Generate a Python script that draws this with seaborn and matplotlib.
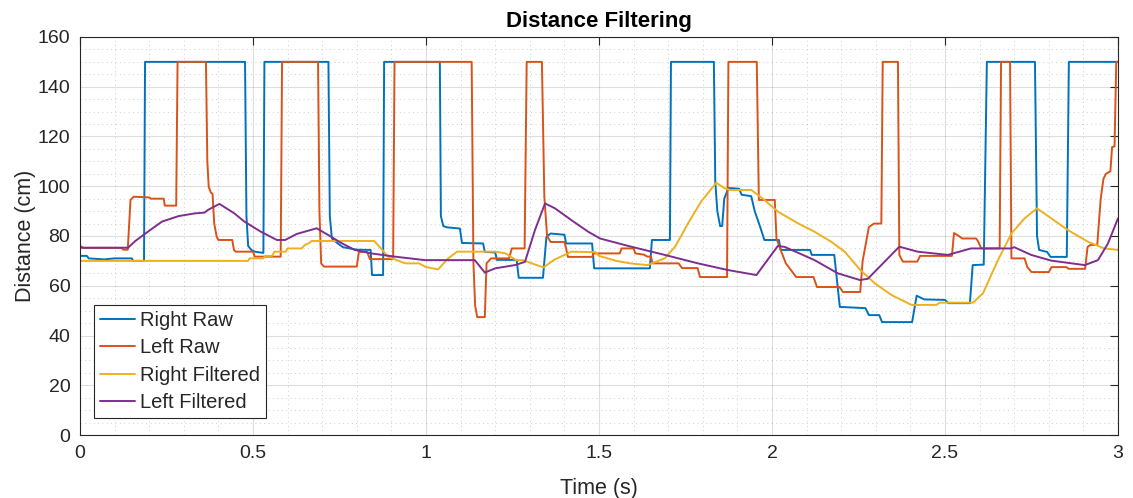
import numpy as np
import pandas as pd
import matplotlib
matplotlib.use("Agg")
import matplotlib.pyplot as plt
from matplotlib.ticker import MultipleLocator
import seaborn as sns

# ---------------- data ----------------
right_raw_t = [0.000, 0.020, 0.025, 0.070, 0.100, 0.150, 0.153, 0.185, 0.188, 0.477, 0.481, 0.486, 0.495, 0.505,
               0.530, 0.533, 0.718, 0.722, 0.728, 0.745, 0.760, 0.800, 0.840, 0.844, 0.876, 0.879, 1.040, 1.043,
               1.050, 1.060, 1.098, 1.104, 1.165, 1.170, 1.200, 1.205, 1.262, 1.268, 1.338, 1.348, 1.360, 1.400,
               1.405, 1.480, 1.486, 1.647, 1.653, 1.705, 1.708, 1.832, 1.836, 1.842, 1.850, 1.856, 1.862, 1.874,
               1.905, 1.912, 1.940, 1.950, 1.965, 1.978, 2.020, 2.025, 2.110, 2.115, 2.180, 2.196, 2.270, 2.280,
               2.310, 2.318, 2.405, 2.418, 2.440, 2.500, 2.510, 2.572, 2.580, 2.612, 2.621, 2.760, 2.766, 2.772,
               2.795, 2.805, 2.852, 2.858, 3.000]
right_raw_v = [72.0, 72.0, 71.0, 70.6, 71.0, 71.0, 70.0, 70.0, 150, 150, 88, 76, 74.4, 73.7,
               73.2, 150, 150, 88, 79, 77, 75.5, 74.5, 74.4, 64.3, 64.3, 150, 150, 88,
               84, 83.5, 83, 77.2, 77, 73.6, 73.4, 70.4, 70.4, 63.2, 63.2, 79.6, 81, 80.5,
               77, 77, 67, 67, 78.4, 78.4, 150, 150, 102, 90, 84, 84, 95, 99.3,
               99, 96.6, 96, 90, 84, 78.4, 78.4, 74.4, 74.4, 72.4, 72.4, 51.5, 51, 48.2,
               48.2, 45.4, 45.4, 56, 54.5, 54.3, 53, 53, 68.3, 68.5, 150, 150, 80, 74.4,
               73.6, 71.6, 71.6, 150, 150]

left_raw_t = [0.000, 0.010, 0.120, 0.125, 0.138, 0.146, 0.155, 0.200, 0.205, 0.242, 0.245, 0.278, 0.282, 0.364,
              0.368, 0.372, 0.378, 0.383, 0.388, 0.395, 0.400, 0.440, 0.445, 0.450, 0.500, 0.505, 0.580, 0.584,
              0.688, 0.692, 0.697, 0.705, 0.800, 0.806, 0.830, 0.838, 0.905, 0.909, 1.132, 1.137, 1.142, 1.148,
              1.170, 1.175, 1.188, 1.240, 1.248, 1.285, 1.291, 1.335, 1.342, 1.350, 1.360, 1.400, 1.405, 1.410,
              1.480, 1.485, 1.560, 1.565, 1.600, 1.605, 1.630, 1.640, 1.650, 1.655, 1.730, 1.740, 1.785, 1.792,
              1.870, 1.874, 1.956, 1.962, 2.008, 2.013, 2.025, 2.040, 2.070, 2.120, 2.130, 2.195, 2.205, 2.255,
              2.262, 2.270, 2.280, 2.295, 2.316, 2.320, 2.364, 2.368, 2.378, 2.420, 2.428, 2.520, 2.526, 2.540,
              2.550, 2.590, 2.595, 2.605, 2.658, 2.662, 2.688, 2.692, 2.730, 2.738, 2.750, 2.800, 2.808, 2.850,
              2.858, 2.905, 2.912, 2.920, 2.940, 2.950, 2.958, 2.965, 2.978, 2.983, 2.990, 2.995, 3.000]
left_raw_v = [76, 75.2, 75.2, 74.5, 74.5, 94.5, 95.8, 95.5, 95, 95, 92.2, 92.2, 150, 150,
              110, 99.8, 97.5, 97, 85, 79.7, 78.4, 78.4, 74.4, 73.7, 73.7, 71.7, 71.7, 150,
              150, 90, 69, 67.7, 67.7, 73.6, 73.6, 70.7, 70.7, 150, 150, 69.6, 52, 47.4,
              47.4, 69, 71, 71, 75, 75, 150, 150, 95.8, 80, 77.6, 77.6, 75, 71.6,
              71.6, 73, 73, 75, 75, 73, 72.5, 71.7, 71.7, 69, 69, 67.1, 67.1, 63.5,
              63.5, 150, 150, 94.5, 94.5, 79, 74.4, 69, 63.5, 63.5, 59.5, 59.5, 57.5, 57.5,
              70, 76, 83.6, 85, 85, 150, 150, 72.4, 69.7, 69.7, 72, 72, 81.2, 80,
              79, 79, 78, 75, 75, 150, 150, 71, 71, 67.5, 65.5, 65.5, 67.5, 67.5,
              66.8, 66.8, 75.6, 76.4, 76.4, 95, 103, 105, 106, 115.8, 116, 150, 150]

right_filt_t = [0.000, 0.486, 0.490, 0.530, 0.535, 0.555, 0.562, 0.595, 0.600, 0.640, 0.650, 0.660, 0.670, 0.850,
                0.870, 0.890, 0.940, 0.980, 1.000, 1.035, 1.064, 1.090, 1.200, 1.230, 1.260, 1.280, 1.320, 1.340,
                1.370, 1.420, 1.490, 1.500, 1.550, 1.590, 1.640, 1.690, 1.720, 1.757, 1.795, 1.839, 1.863, 1.880,
                1.940, 1.978, 2.017, 2.075, 2.123, 2.171, 2.210, 2.254, 2.297, 2.345, 2.403, 2.475, 2.485, 2.581,
                2.610, 2.653, 2.692, 2.730, 2.766, 2.807, 2.855, 2.913, 2.960, 3.000]
right_filt_v = [70, 70, 71, 71, 72, 72, 73.7, 73.7, 75, 75, 76.4, 77, 78, 78,
                75, 71.7, 69, 69, 67.5, 66.6, 71, 73.7, 73.7, 73, 70.3, 70.3, 68.3, 67.4,
                70.4, 73.7, 73.5, 72, 70, 69, 68.3, 71, 75.7, 85, 93.8, 101.4, 99.2, 98.5,
                98.5, 94.5, 89.8, 85.1, 81.7, 77.7, 73.7, 66.5, 61, 56.3, 52.3, 52.3, 53.2, 53.2,
                57, 70.3, 81, 87.1, 91.1, 87.1, 82.4, 77.7, 75, 74.4]

left_filt_t = [0.000, 0.139, 0.160, 0.189, 0.237, 0.285, 0.332, 0.360, 0.370, 0.403, 0.446, 0.475, 0.523, 0.569,
               0.593, 0.626, 0.684, 0.726, 0.751, 0.794, 0.842, 0.910, 0.997, 1.141, 1.170, 1.200, 1.257, 1.286,
               1.315, 1.344, 1.373, 1.420, 1.469, 1.503, 1.530, 1.593, 1.690, 1.786, 1.873, 1.955, 1.985, 2.017,
               2.037, 2.123, 2.190, 2.254, 2.277, 2.368, 2.421, 2.508, 2.575, 2.691, 2.700, 2.749, 2.807, 2.904,
               2.942, 2.971, 3.000]
left_filt_v = [75.3, 75.3, 78, 81, 85.8, 88, 89.1, 89.4, 90.5, 92.9, 89.1, 85.8, 81.7, 78.4,
               78.4, 80.8, 83.1, 79.7, 77.5, 74.4, 73, 71.7, 70.3, 70.3, 65.3, 67, 68.3, 69.6,
               82.4, 93.1, 91.1, 86.4, 81.7, 79, 78, 75.7, 72.4, 69, 66.3, 64.3, 70, 76,
               75.6, 70.3, 65, 62.3, 62.8, 75.7, 73.7, 72.4, 75, 75, 75.5, 72.4, 70.1, 68.3,
               70.3, 77, 87.1]

series_names = ["Right Raw", "Left Raw", "Right Filtered", "Left Filtered"]
series_colors = ["#0072BD", "#D95319", "#EDB120", "#7E2F8E"]
x_tick_labels = ["0", "0.5", "1", "1.5", "2", "2.5", "3"]

frames = []
for name, t, v in zip(series_names,
                      [right_raw_t, left_raw_t, right_filt_t, left_filt_t],
                      [right_raw_v, left_raw_v, right_filt_v, left_filt_v]):
    frames.append(pd.DataFrame({"Time": t, "Distance": v, "Series": name}))
df = pd.concat(frames, ignore_index=True)

# ---------------- style ----------------
sns.set_theme(style="white")
plt.rcParams["font.family"] = ["Liberation Sans", "DejaVu Sans"]
dark = "#262626"

fig = plt.figure(figsize=(11.33, 4.98), dpi=100)
ax = fig.add_axes([80 / 1133, 63 / 498, 1038 / 1133, 398 / 498])

sns.lineplot(data=df, x="Time", y="Distance", hue="Series", hue_order=series_names,
             palette=series_colors, estimator=None, sort=False, linewidth=1.4, ax=ax)

ax.set_xlim(0, 3)
ax.set_ylim(0, 160)
ax.set_xticks([0, 0.5, 1, 1.5, 2, 2.5, 3])
ax.set_xticklabels(x_tick_labels)
ax.xaxis.set_minor_locator(MultipleLocator(0.1))
ax.yaxis.set_major_locator(MultipleLocator(20))
ax.yaxis.set_minor_locator(MultipleLocator(5))

ax.grid(which="major", color=dark, alpha=0.15, linewidth=0.8, linestyle="-")
ax.grid(which="minor", color=dark, alpha=0.22, linewidth=0.7, linestyle=(0, (1, 3.5)))
ax.set_axisbelow(True)

ax.tick_params(which="major", direction="in", length=6, width=0.8, color=dark,
               top=True, right=True, labelsize=14, labelcolor=dark, pad=7)
ax.tick_params(which="minor", length=0, top=True, right=True)
for s in ax.spines.values():
    s.set_color(dark)
    s.set_linewidth(0.8)
    s.set_visible(True)

ax.set_xlabel("Time (s)", fontsize=15.5, color=dark, labelpad=12)
ax.set_ylabel("Distance (cm)", fontsize=15.5, color=dark, labelpad=1)
ax.set_title("Distance Filtering", fontsize=16, fontweight="bold", color="black", pad=7)

leg = ax.legend(loc="lower left", bbox_to_anchor=(14.3 / 1038, 16.7 / 398), borderaxespad=0,
                fontsize=14.5, handlelength=1.7, handletextpad=0.25, labelspacing=0.42,
                borderpad=0.3, fancybox=False, framealpha=1, edgecolor=dark, title=None)
leg.get_frame().set_linewidth(0.8)
for line in leg.get_lines():
    line.set_linewidth(1.4)

fig.savefig("out.png", dpi=100, facecolor="white")
